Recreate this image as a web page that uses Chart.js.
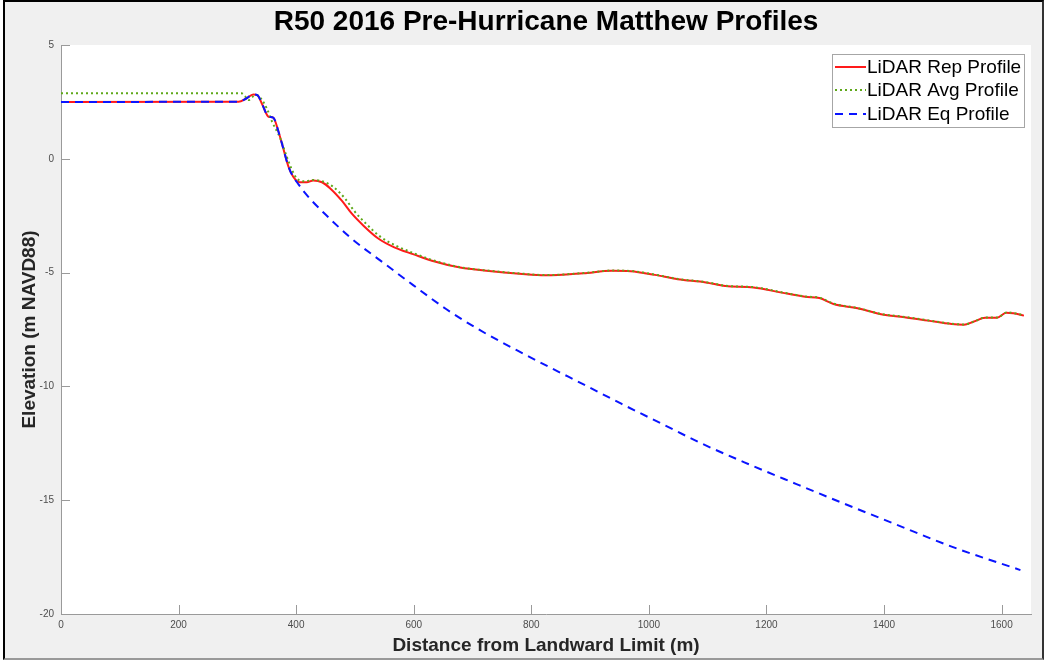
<!DOCTYPE html>
<html>
<head>
<meta charset="utf-8">
<script src="https://cdn.jsdelivr.net/npm/chart.js@4/dist/chart.umd.min.js"></script>
<style>
  html, body { margin: 0; padding: 0; background: #ffffff; width: 1046px; height: 662px; overflow: hidden; }
  #frame { position: absolute; left: 3px; top: 0px; width: 1037px; height: 656px; background: #f0f0f0;
           border-left: 2px solid #000; border-top: 2px solid #000; border-right: 2px solid #333; border-bottom: 2px solid #999; }
  #wrap { position: absolute; left: 0; top: 0; width: 1046px; height: 662px; }
</style>
</head>
<body>
<div id="frame"></div>
<div id="wrap"><canvas id="c" width="1046" height="662"></canvas></div>
<script>
// ---- data ----
const repDist = [0, 302, 315, 327, 334, 343, 353, 361, 370, 378, 387, 395, 406, 418, 429, 444, 458, 478, 494, 515, 539, 567, 600, 631, 679, 728, 780, 824, 888, 937, 969, 1010, 1049, 1097, 1130, 1178, 1226, 1266, 1290, 1314, 1355, 1395, 1435, 1475, 1515, 1536, 1552, 1572, 1592, 1608, 1620, 1638];
const repElev = [2.50, 2.51, 2.65, 2.83, 2.80, 2.35, 1.85, 1.81, 1.19, 0.46, -0.35, -0.79, -1.03, -1.03, -0.95, -1.03, -1.30, -1.85, -2.39, -2.95, -3.49, -3.89, -4.20, -4.48, -4.78, -4.93, -5.05, -5.12, -5.03, -4.92, -4.94, -5.10, -5.29, -5.43, -5.59, -5.65, -5.88, -6.06, -6.12, -6.38, -6.57, -6.83, -6.96, -7.11, -7.26, -7.29, -7.16, -6.98, -6.98, -6.76, -6.79, -6.89];

const avgDist = [0, 307, 313, 319, 325, 330, 336, 350, 359, 373, 384, 393, 401, 415, 429, 446, 463, 483, 500, 520, 543, 570, 602, 633, 680, 729, 781, 825, 889, 938, 970, 1011, 1050, 1098, 1131, 1179, 1227, 1267, 1291, 1315, 1356, 1396, 1436, 1476, 1516, 1537, 1553, 1573, 1593, 1609, 1621, 1638];
const avgElev = [2.88, 2.88, 2.75, 2.58, 2.70, 2.80, 2.76, 2.22, 1.63, 0.90, 0.09, -0.49, -0.86, -0.99, -0.93, -1.00, -1.23, -1.74, -2.33, -2.88, -3.42, -3.82, -4.17, -4.46, -4.77, -4.92, -5.04, -5.11, -5.02, -4.91, -4.93, -5.09, -5.28, -5.42, -5.58, -5.64, -5.87, -6.05, -6.11, -6.37, -6.56, -6.82, -6.95, -7.10, -7.25, -7.28, -7.15, -6.97, -6.97, -6.75, -6.78, -6.88];

const eqDist = [0, 302, 315, 327, 334, 343, 353, 361, 370, 378, 387, 395, 404, 415, 427, 450, 494, 551, 599, 655, 712, 776, 832, 888, 953, 1025, 1089, 1170, 1250, 1331, 1419, 1515, 1632];
const eqElev = [2.50, 2.51, 2.65, 2.83, 2.80, 2.35, 1.85, 1.81, 1.19, 0.46, -0.35, -0.79, -1.12, -1.50, -1.85, -2.45, -3.50, -4.62, -5.55, -6.60, -7.52, -8.42, -9.17, -9.90, -10.76, -11.68, -12.50, -13.42, -14.28, -15.14, -16.05, -17.04, -18.07];

const seriesNames = ['LiDAR Rep Profile', 'LiDAR Avg Profile', 'LiDAR Eq Profile'];
const titleText = 'R50 2016 Pre-Hurricane Matthew Profiles';
const xTitle = 'Distance from Landward Limit (m)';
const yTitle = 'Elevation (m NAVD88)';
const xTickValues = [0, 200, 400, 600, 800, 1000, 1200, 1400, 1600];
const yTickValues = [-20, -15, -10, -5, 0, 5];

const toPts = (xs, ys) => xs.map((x, i) => ({ x: x, y: ys[i] }));
const FONT = "'Liberation Sans', Arial, Helvetica, sans-serif";

const plotBg = {
  id: 'plotBg',
  beforeDraw(chart) {
    const { ctx, chartArea: a } = chart;
    ctx.save();
    ctx.fillStyle = '#ffffff';
    ctx.fillRect(a.left, a.top, a.right - a.left, a.bottom - a.top);
    ctx.restore();
  }
};

// title centred over the axes, as in the original figure
const axesTitle = {
  id: 'axesTitle',
  afterDraw(chart) {
    const { ctx, chartArea: a } = chart;
    ctx.save();
    ctx.fillStyle = '#000';
    ctx.font = 'bold 28px ' + FONT;
    ctx.textAlign = 'center';
    ctx.textBaseline = 'middle';
    ctx.fillText(titleText, (a.left + a.right) / 2, 22);
    ctx.restore();
  }
};

const inTicks = {
  id: 'inTicks',
  afterDatasetsDraw(chart) {
    const { ctx, chartArea: a, scales } = chart;
    ctx.save();
    ctx.strokeStyle = '#9a9a9a';
    ctx.lineWidth = 1;
    ctx.beginPath();
    scales.x.ticks.forEach(t => {
      const px = Math.round(scales.x.getPixelForValue(t.value)) + 0.5;
      ctx.moveTo(px, a.bottom); ctx.lineTo(px, a.bottom - 9);
    });
    scales.y.ticks.forEach(t => {
      const py = Math.round(scales.y.getPixelForValue(t.value)) + 0.5;
      ctx.moveTo(a.left, py); ctx.lineTo(a.left + 9, py);
    });
    ctx.stroke();
    ctx.restore();
  }
};

const boxLegend = {
  id: 'boxLegend',
  afterDraw(chart) {
    const { ctx } = chart;
    const x0 = 832, y0 = 54, w = 192, h = 73;
    ctx.save();
    ctx.fillStyle = '#ffffff';
    ctx.fillRect(x0, y0, w, h);
    ctx.strokeStyle = '#a6a6a6';
    ctx.lineWidth = 1;
    ctx.strokeRect(x0 + 0.5, y0 + 0.5, w, h);
    const rows = [67, 90, 114];
    chart.data.datasets.forEach((ds, i) => {
      const y = rows[i];
      ctx.strokeStyle = ds.borderColor;
      ctx.lineWidth = ds.borderWidth;
      ctx.setLineDash(ds.borderDash || []);
      ctx.beginPath();
      ctx.moveTo(835, y); ctx.lineTo(866, y);
      ctx.stroke();
      ctx.setLineDash([]);
      ctx.fillStyle = '#000';
      ctx.font = '19px ' + FONT;
      ctx.textBaseline = 'middle';
      ctx.textAlign = 'left';
      ctx.fillText(ds.label, 867, y + 1);
    });
    ctx.restore();
  }
};

new Chart(document.getElementById('c'), {
  type: 'scatter',
  data: {
    datasets: [
      { label: seriesNames[0], data: toPts(repDist, repElev), showLine: true, borderColor: '#ff1a1a', borderWidth: 2, pointRadius: 0, cubicInterpolationMode: 'monotone', order: 3 },
      { label: seriesNames[1], data: toPts(avgDist, avgElev), showLine: true, borderColor: '#5fa819', borderWidth: 2, borderDash: [2, 3], pointRadius: 0, cubicInterpolationMode: 'monotone', order: 2 },
      { label: seriesNames[2], data: toPts(eqDist, eqElev), showLine: true, borderColor: '#0a14ff', borderWidth: 2, borderDash: [8, 6], pointRadius: 0, cubicInterpolationMode: 'monotone', order: 1 }
    ]
  },
  options: {
    responsive: false,
    animation: false,
    layout: { padding: { left: 0, right: 15, top: 45, bottom: 0 } },
    plugins: {
      legend: { display: false },
      tooltip: { enabled: false },
      title: { display: false }
    },
    scales: {
      x: {
        type: 'linear', min: 0, max: 1650,
        afterFit(s) { s.height = 48; },
        afterBuildTicks(s) { s.ticks = xTickValues.map(v => ({ value: v })); },
        grid: { display: false, drawTicks: false },
        border: { display: true, color: '#9a9a9a', width: 1 },
        ticks: { color: '#4d4d4d', font: { family: FONT, size: 10 }, padding: 5, maxRotation: 0, autoSkip: false, callback: v => String(v) },
        title: { display: true, text: xTitle, color: '#262626', font: { family: FONT, size: 19, weight: 'bold' }, padding: { top: 2, bottom: 5 } }
      },
      y: {
        type: 'linear', min: -20, max: 5,
        afterFit(s) { s.width = 61; },
        afterBuildTicks(s) { s.ticks = yTickValues.map(v => ({ value: v })); },
        grid: { display: false, drawTicks: false },
        border: { display: true, color: '#9a9a9a', width: 1 },
        ticks: { color: '#4d4d4d', font: { family: FONT, size: 10 }, padding: 7, autoSkip: false, callback: v => String(v) },
        title: { display: true, text: yTitle, color: '#262626', font: { family: FONT, size: 19, weight: 'bold' }, padding: { top: 18, bottom: 0 } }
      }
    }
  },
  plugins: [plotBg, inTicks, boxLegend, axesTitle]
});
</script>
</body>
</html>
